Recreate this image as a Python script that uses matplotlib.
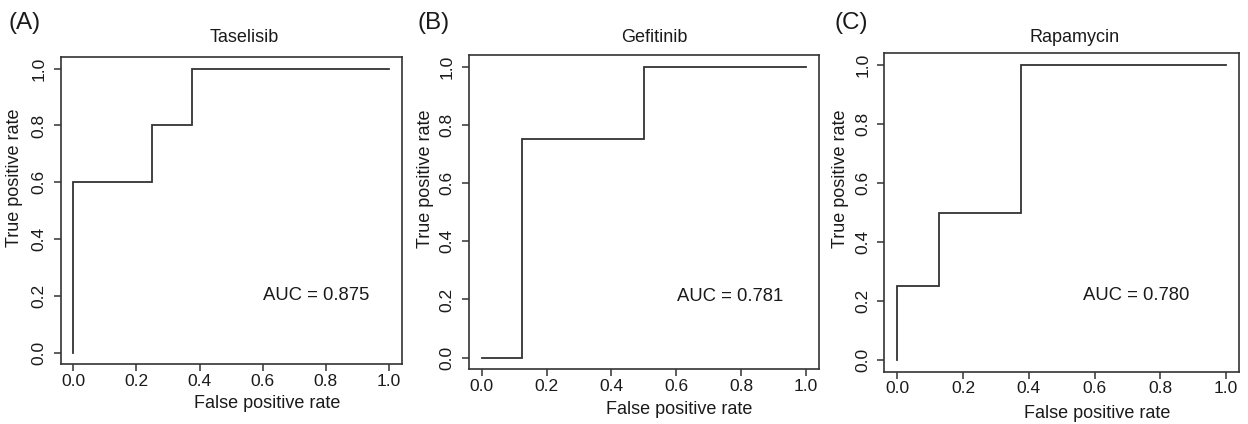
import matplotlib
matplotlib.use('Agg')
import matplotlib.pyplot as plt

plt.rcParams['font.family'] = ['Liberation Sans', 'DejaVu Sans']

# ROC curves (false positive rate, true positive rate) per drug
drugs = ['Taselisib', 'Gefitinib', 'Rapamycin']
panel_tags = ['(A)', '(B)', '(C)']
fpr_taselisib = [0.0, 0.0, 0.25, 0.25, 0.375, 0.375, 1.0]
tpr_taselisib = [0.0, 0.6, 0.6, 0.8, 0.8, 1.0, 1.0]
fpr_gefitinib = [0.0, 0.125, 0.125, 0.5, 0.5, 1.0]
tpr_gefitinib = [0.0, 0.0, 0.75, 0.75, 1.0, 1.0]
fpr_rapamycin = [0.0, 0.0, 0.125, 0.125, 0.375, 0.375, 1.0]
tpr_rapamycin = [0.0, 0.25, 0.25, 0.5, 0.5, 1.0, 1.0]
auc_values = [0.875, 0.781, 0.780]
ticks = [0.0, 0.2, 0.4, 0.6, 0.8, 1.0]

curves = [(fpr_taselisib, tpr_taselisib),
          (fpr_gefitinib, tpr_gefitinib),
          (fpr_rapamycin, tpr_rapamycin)]

W, H = 1248, 424
# axes boxes in pixels: left, top, right, bottom
boxes = [(60.7, 57.3, 401.7, 364.0),
         (468.7, 55.0, 819.0, 369.3),
         (884.3, 53.3, 1239.3, 371.7)]
# text anchors in pixels
tag_pos = [(8, 23.5), (418, 23.5), (834, 23.5)]
title_pos = [(243.8, 37), (654.5, 37), (1075.0, 37)]
ylab_pos = [(15, 177.5), (425, 179), (840, 179)]
xlab_pos = [(266.7, 403), (679.2, 410), (1096.7, 413)]
auc_pos = [(0.77, 0.20), (0.765, 0.21), (0.725, 0.22)]

INK = '#333333'
TXT = '#1a1a1a'

fig = plt.figure(figsize=(W / 100, H / 100), dpi=100)

for i in range(3):
    l, t, r, b = boxes[i]
    ax = fig.add_axes([l / W, 1 - b / H, (r - l) / W, (b - t) / H])
    fpr, tpr = curves[i]
    ax.plot(fpr, tpr, color=INK, lw=1.3, solid_joinstyle='miter')
    ax.set_xlim(-0.04, 1.04)
    ax.set_ylim(-0.04, 1.04)
    ax.set_xticks(ticks)
    ax.set_yticks(ticks)
    ax.set_xticklabels(['%.1f' % v for v in ticks])
    ax.set_yticklabels(['%.1f' % v for v in ticks])
    for s in ax.spines.values():
        s.set_color(INK)
        s.set_linewidth(1.2)
    ax.tick_params(axis='both', direction='out', length=5, width=1.1,
                   color=INK, labelcolor=TXT, labelsize=12.5)
    ax.tick_params(axis='x', pad=2)
    ax.tick_params(axis='y', pad=5, labelrotation=90)
    for lab in ax.get_yticklabels():
        lab.set_va('center')

    ax.text(auc_pos[i][0], auc_pos[i][1], 'AUC = %.3f' % auc_values[i],
            ha='center', va='center', fontsize=13.3, color=TXT)

    fig.text(tag_pos[i][0] / W, 1 - tag_pos[i][1] / H, panel_tags[i],
             ha='left', va='center', fontsize=17.5, color=TXT)
    fig.text(title_pos[i][0] / W, 1 - title_pos[i][1] / H, drugs[i],
             ha='center', va='center', fontsize=13, color=TXT)
    fig.text(ylab_pos[i][0] / W, 1 - ylab_pos[i][1] / H, 'True positive rate',
             ha='center', va='center', rotation=90, fontsize=13, color=TXT)
    fig.text(xlab_pos[i][0] / W, 1 - xlab_pos[i][1] / H, 'False positive rate',
             ha='center', va='center', fontsize=13, color=TXT)

fig.savefig('out.png', dpi=100)
